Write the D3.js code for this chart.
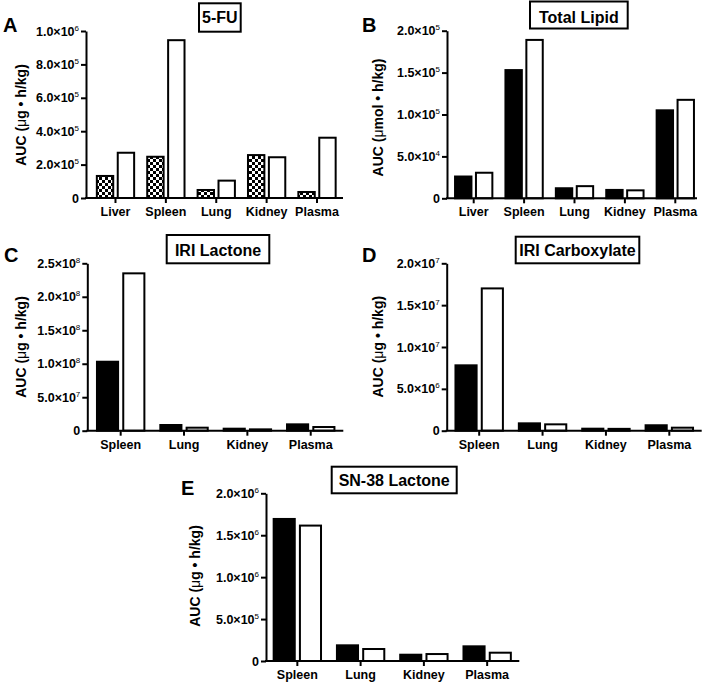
<!DOCTYPE html>
<html>
<head>
<meta charset="utf-8">
<script src="https://cdn.jsdelivr.net/npm/d3@7"></script>
<style>
  html, body { margin: 0; padding: 0; background: #fff; }
  svg { display: block; }
  text { font-family: Arial, "Liberation Sans", sans-serif; fill: #000; }
</style>
</head>
<body>
<svg id="chart" width="705" height="684"></svg>
<script>
// ---------------- DATA ----------------
const categories5 = ["Liver", "Spleen", "Lung", "Kidney", "Plasma"];
const categories4 = ["Spleen", "Lung", "Kidney", "Plasma"];

const fuFilled   = [1.32e5, 2.47e5, 0.48e5, 2.57e5, 0.36e5];
const fuOpen     = [2.71e5, 9.45e5, 1.04e5, 2.44e5, 3.61e5];
const fuTicks    = [0, 2e5, 4e5, 6e5, 8e5, 1e6];

const lipidFilled = [2.6e4, 1.53e5, 1.2e4, 1.0e4, 1.05e5];
const lipidOpen   = [3.05e4, 1.89e5, 1.45e4, 9.5e3, 1.175e5];
const lipidTicks  = [0, 5e4, 1e5, 1.5e5, 2e5];

const iriLacFilled = [1.03e8, 8.5e6, 3.0e6, 9.5e6];
const iriLacOpen   = [2.35e8, 4.5e6, 2.0e6, 5.5e6];
const iriLacTicks  = [0, 5e7, 1e8, 1.5e8, 2e8, 2.5e8];

const iriCarbFilled = [7.81e6, 8.8e5, 2.4e5, 6.5e5];
const iriCarbOpen   = [1.70e7, 7.6e5, 2.2e5, 3.6e5];
const iriCarbTicks  = [0, 5e6, 1e7, 1.5e7, 2e7];

const snFilled = [1.694e6, 1.87e5, 7.5e4, 1.75e5];
const snOpen   = [1.615e6, 1.43e5, 8.3e4, 9.9e4];
const snTicks  = [0, 5e5, 1e6, 1.5e6, 2e6];

const panelLetters = ["A", "B", "C", "D", "E"];
const panelTitles  = ["5-FU", "Total Lipid", "IRI Lactone", "IRI Carboxylate", "SN-38 Lactone"];
const yTitleUnits  = ["g • h/kg", "mol • h/kg", "g • h/kg", "g • h/kg", "g • h/kg"];

// ---------------- LAYOUT ----------------
const panels = [
  { cats: categories5, s1: fuFilled, s2: fuOpen, ticks: fuTicks, checker: true,
    axisX: 86, xr: [90.3, 342.2], axisEnd: 343, yb: 198, yt: 31,
    letter: [3, 31.7], box: [199, 3.3, 41.7, 28.4], titleY: 23, ytitle: [20.7, 115] },
  { cats: categories5, s1: lipidFilled, s2: lipidOpen, ticks: lipidTicks,
    axisX: 447, xr: [448.5, 700.5], axisEnd: 697, yb: 198.3, yt: 30.7,
    letter: [362, 31.7], box: [530, 1.5, 97.7, 27], titleY: 22.5, ytitle: [378.3, 117.5] },
  { cats: categories4, s1: iriLacFilled, s2: iriLacOpen, ticks: iriLacTicks,
    axisX: 87.3, xr: [89, 342.4], axisEnd: 343.3, yb: 430.7, yt: 263.3,
    letter: [4, 262], box: [166.7, 235, 102.6, 28.3], titleY: 255.8, ytitle: [20.7, 347] },
  { cats: categories4, s1: iriCarbFilled, s2: iriCarbOpen, ticks: iriCarbTicks,
    axisX: 446.7, xr: [447.5, 701], axisEnd: 701.7, yb: 430.7, yt: 263.3,
    letter: [362, 262], box: [515.7, 236.7, 123.6, 26.6], titleY: 255.8, ytitle: [378.3, 346.7] },
  { cats: categories4, s1: snFilled, s2: snOpen, ticks: snTicks,
    axisX: 266, xr: [265.7, 518.8], axisEnd: 519.3, yb: 661, yt: 493.3,
    letter: [181, 495], box: [331.7, 466.7, 125, 26.6], titleY: 485.5, ytitle: [195, 576] }
];

const svg = d3.select("#chart");

// checkerboard pattern
const defs = svg.append("defs");
const pat = defs.append("pattern").attr("id", "checker")
  .attr("patternUnits", "userSpaceOnUse").attr("width", 6).attr("height", 6);
pat.append("rect").attr("width", 6).attr("height", 6).attr("fill", "#fff");
pat.append("rect").attr("width", 3).attr("height", 3).attr("fill", "#000");
pat.append("rect").attr("x", 3).attr("y", 3).attr("width", 3).attr("height", 3).attr("fill", "#000");

function fmtParts(v) {
  if (v === 0) return null;
  const e = Math.floor(Math.log10(v));
  const m = v / Math.pow(10, e);
  return [m.toFixed(1) + "×10", String(e)];
}

panels.forEach((p, i) => {
  const g = svg.append("g");
  const x = d3.scaleBand().domain(p.cats).range(p.xr).paddingInner(0).paddingOuter(0);
  const y = d3.scaleLinear().domain([0, p.ticks[p.ticks.length - 1]]).range([p.yb, p.yt]);
  const step = x.step();
  const bw = step * 0.365, gap = step * 0.05;

  // bars
  const rows = p.cats.map((c, k) => ({ c, v1: p.s1[k], v2: p.s2[k] }));
  g.selectAll(".b1").data(rows).join("rect")
    .attr("x", d => x(d.c) + step / 2 - gap / 2 - bw + 1)
    .attr("width", bw - 2)
    .attr("y", d => y(d.v1))
    .attr("height", d => y(0) - y(d.v1))
    .attr("fill", p.checker ? "url(#checker)" : "#000")
    .attr("stroke", "#000").attr("stroke-width", 2);
  g.selectAll(".b2").data(rows).join("rect")
    .attr("x", d => x(d.c) + step / 2 + gap / 2 + 1)
    .attr("width", bw - 2)
    .attr("y", d => y(d.v2))
    .attr("height", d => y(0) - y(d.v2))
    .attr("fill", "#fff")
    .attr("stroke", "#000").attr("stroke-width", 2);

  // y axis
  const ya = g.append("g").attr("transform", `translate(${p.axisX},0)`)
    .call(d3.axisLeft(y).tickValues(p.ticks).tickSize(5).tickSizeOuter(0).tickPadding(2));
  ya.select(".domain").attr("stroke-width", 2);
  ya.selectAll(".tick line").attr("stroke-width", 2);
  ya.selectAll(".tick text").each(function (d) {
    const t = d3.select(this).text("")
      .attr("font-size", 12.5).attr("font-weight", "bold")
      .attr("font-family", "Arial, 'Liberation Sans', sans-serif");
    const parts = fmtParts(d);
    if (!parts) { t.text("0"); return; }
    t.append("tspan").text(parts[0]);
    t.append("tspan").attr("dy", -5).attr("font-size", 8).attr("font-weight", "normal").text(parts[1]);
  });

  // x axis
  const xa = g.append("g").attr("transform", `translate(0,${p.yb})`)
    .call(d3.axisBottom(x).tickSize(5).tickSizeOuter(0).tickPadding(4));
  xa.select(".domain").remove();
  xa.selectAll(".tick line").attr("stroke-width", 2);
  xa.selectAll(".tick text").attr("font-size", 12.5).attr("font-weight", "bold")
    .attr("font-family", "Arial, 'Liberation Sans', sans-serif");
  g.append("line").attr("x1", p.axisX - 1).attr("x2", p.axisEnd)
    .attr("y1", p.yb).attr("y2", p.yb).attr("stroke", "#000").attr("stroke-width", 2);

  // panel letter
  g.append("text").attr("x", p.letter[0]).attr("y", p.letter[1])
    .attr("font-size", 20).attr("font-weight", "bold").text(panelLetters[i]);

  // title box
  g.append("rect").attr("x", p.box[0]).attr("y", p.box[1])
    .attr("width", p.box[2]).attr("height", p.box[3])
    .attr("fill", "#fff").attr("stroke", "#000").attr("stroke-width", 2);
  g.append("text").attr("x", p.box[0] + p.box[2] / 2).attr("y", p.titleY)
    .attr("text-anchor", "middle").attr("font-size", 16).attr("font-weight", "bold")
    .text(panelTitles[i]);

  // y title
  const yt = g.append("text")
    .attr("transform", `translate(${p.ytitle[0] + 5},${p.ytitle[1]}) rotate(-90)`)
    .attr("text-anchor", "middle").attr("font-size", 14).attr("font-weight", "bold");
  yt.append("tspan").text("AUC (");
  yt.append("tspan").attr("font-weight", "normal").text("μ");
  yt.append("tspan").text(yTitleUnits[i] + ")");
});
</script>
</body>
</html>
